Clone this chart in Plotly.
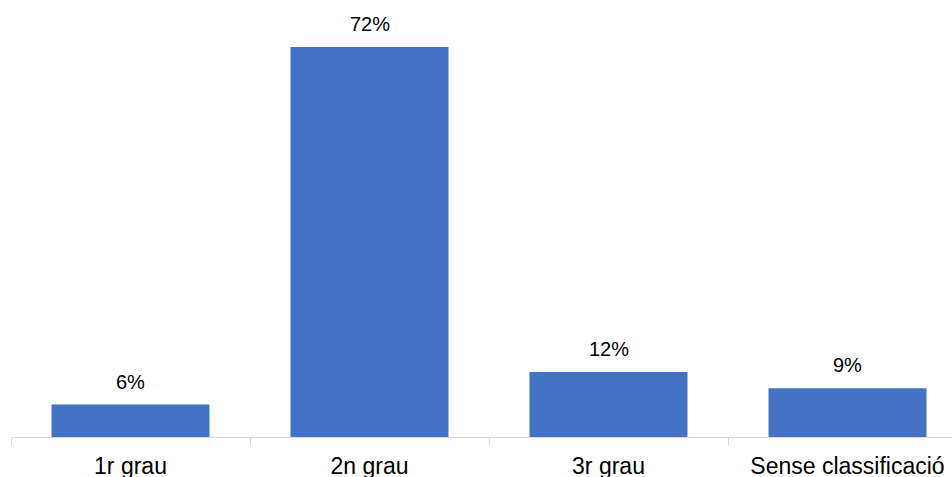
import plotly.graph_objects as go

categories = ["1r grau", "2n grau", "3r grau", "Sense classificació"]
values = [6, 72, 12, 9]
labels = ["6%", "72%", "12%", "9%"]

fig = go.Figure()
fig.add_trace(go.Bar(
    x=categories, y=values,
    marker=dict(color="#4472C4", line=dict(width=0)),
    hoverinfo="skip",
))

for c, v, t in zip(categories, values, labels):
    fig.add_annotation(
        x=c, y=v, text=t, showarrow=False,
        yanchor="bottom", yshift=10,
        font=dict(family="Liberation Sans, Arial, sans-serif", size=20, color="#000000"),
    )

fig.update_layout(
    width=952, height=477,
    margin=dict(l=11, r=0, t=0, b=40),
    paper_bgcolor="white", plot_bgcolor="white",
    bargap=0.339,
    showlegend=False,
    font=dict(family="Liberation Sans, Arial, sans-serif", size=23, color="#000000"),
    xaxis=dict(
        range=[-0.5, -0.5 + 941 / 239],
        showline=True, linecolor="#d9d9d9", linewidth=1,
        ticks="outside", tickson="boundaries", ticklen=7, tickcolor="#d9d9d9",
        showgrid=False, automargin=False,
        ticklabelstandoff=8,
        tickfont=dict(size=23, color="#000000"),
        fixedrange=True,
    ),
    yaxis=dict(
        range=[0, 437 / (390 / 72)],
        visible=False, showgrid=False, zeroline=False, automargin=False,
        fixedrange=True,
    ),
)

fig.write_html(
    "out.html",
    config={"displayModeBar": False, "staticPlot": True},
    post_script="document.body.style.margin='0';document.body.style.overflow='hidden';",
)
